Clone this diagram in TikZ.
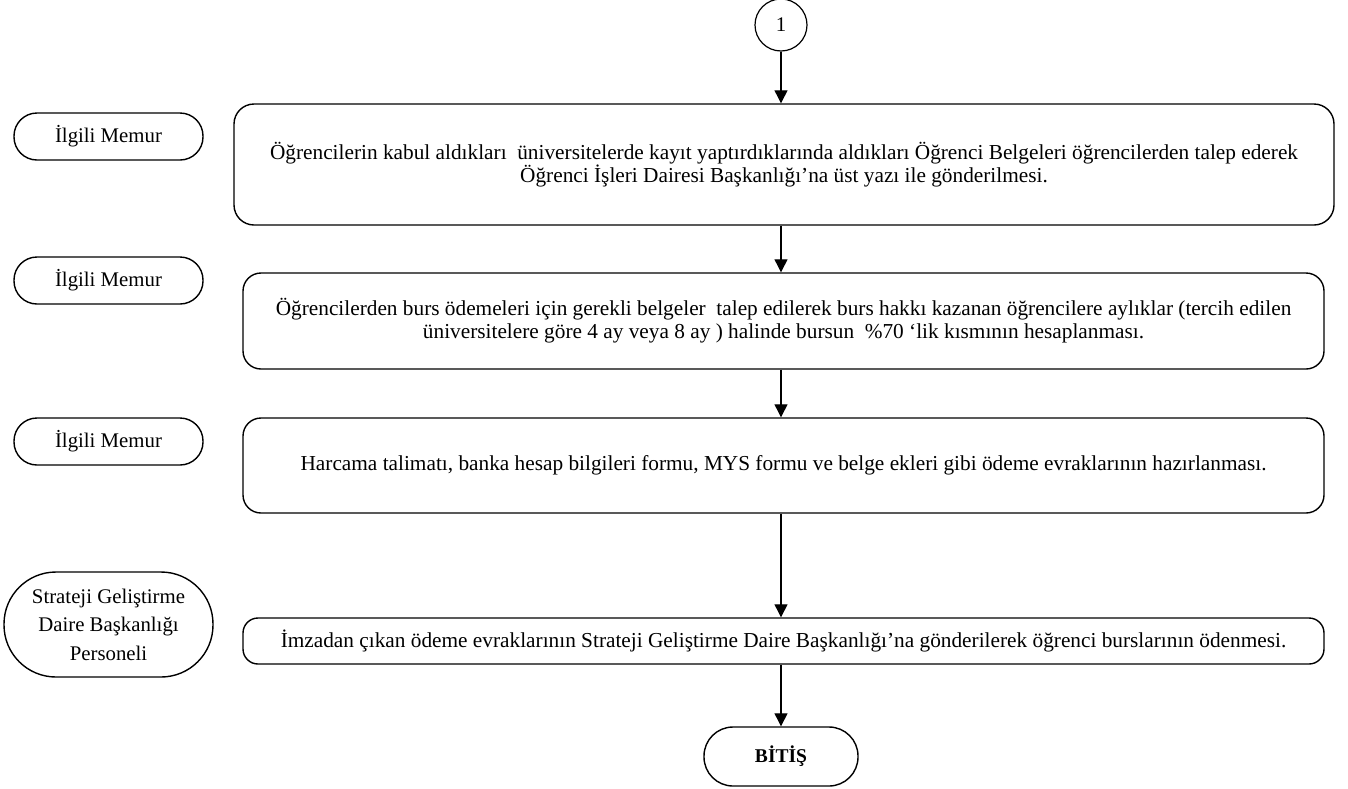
\documentclass[tikz,border=0pt]{standalone}
\usepackage{fontspec}
\setmainfont{Liberation Serif}
\usetikzlibrary{arrows.meta}
\tikzset{
  proc/.style={draw, line width=1.4pt, rounded corners=18pt, align=center, inner sep=0pt, font=\fontsize{21.3}{23}\selectfont},
  actor/.style={draw, line width=1.4pt, rounded corners=23pt, minimum width=189pt, minimum height=47pt, align=center, inner sep=0pt, font=\fontsize{20.8}{22}\selectfont},
  flow/.style={line width=1.2pt, -{Triangle[length=13pt,width=13pt]}}
}
\begin{document}
\begin{tikzpicture}[x=1pt,y=-1pt]
\useasboundingbox (0,0) rectangle (1348,788);
\node[draw, circle, line width=1.2pt, minimum size=52pt, inner sep=0pt, font=\fontsize{20.8}{22}\selectfont] (c1) at (781,25) {1};
\node[proc, rounded corners=20pt, minimum width=1100pt, minimum height=121pt] (b1) at (784,164.5) {Öğrencilerin kabul aldıkları~\ üniversitelerde kayıt yaptırdıklarında aldıkları Öğrenci Belgeleri öğrencilerden talep ederek\\Öğrenci İşleri Dairesi Başkanlığı’na üst yazı ile gönderilmesi.};
\node[proc, minimum width=1081pt, minimum height=96pt] (b2) at (783.5,321) {Öğrencilerden burs ödemeleri için gerekli belgeler~\ talep edilerek burs hakkı kazanan öğrencilere aylıklar (tercih edilen\\üniversitelere göre 4 ay veya 8 ay ) halinde bursun~\ \%70 ‘lik kısmının hesaplanması.};
\node[proc, minimum width=1081pt, minimum height=95pt] (b3) at (783.5,465.5) {Harcama talimatı, banka hesap bilgileri formu, MYS formu ve belge ekleri gibi ödeme evraklarının hazırlanması.};
\node[proc, rounded corners=15pt, minimum width=1081pt, minimum height=46pt] (b4) at (783.5,641) {İmzadan çıkan ödeme evraklarının Strateji Geliştirme Daire Başkanlığı’na gönderilerek öğrenci burslarının ödenmesi.};
\node[actor, rounded corners=29pt, minimum width=154pt, minimum height=59pt, font=\fontsize{19.5}{22}\selectfont\bfseries] (end) at (781,756.5) {BİTİŞ};
\node[actor] (a1) at (108.5,136.5) {İlgili Memur};
\node[actor] (a2) at (108.5,280.5) {İlgili Memur};
\node[actor] (a3) at (108.5,441.5) {İlgili Memur};
\node[actor, rounded corners=52pt, minimum width=209pt, minimum height=105pt, font=\fontsize{20.8}{28.5}\selectfont] (a4) at (108.5,624.5) {Strateji Geliştirme\\Daire Başkanlığı\\Personeli};
\draw[flow] (c1.south) -- (c1.south |- b1.north);
\draw[flow] (c1.south |- b1.south) -- (c1.south |- b2.north);
\draw[flow] (c1.south |- b2.south) -- (c1.south |- b3.north);
\draw[flow] (c1.south |- b3.south) -- (c1.south |- b4.north);
\draw[flow] (c1.south |- b4.south) -- (end.north);
\end{tikzpicture}
\end{document}
